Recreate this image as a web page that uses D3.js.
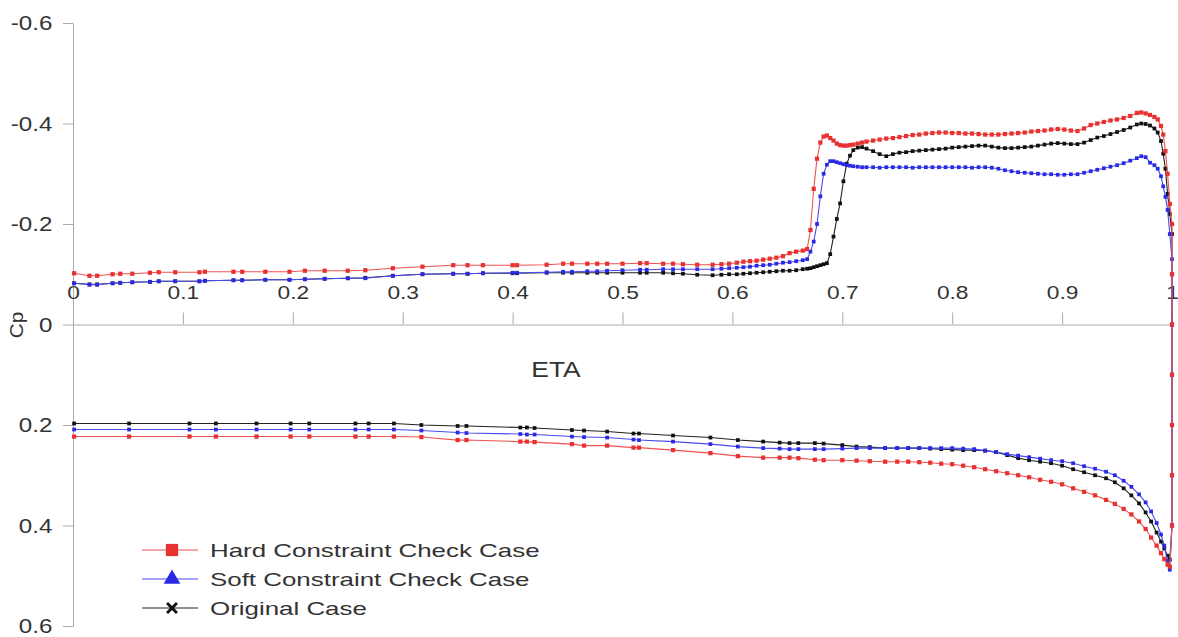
<!DOCTYPE html>
<html>
<head>
<meta charset="utf-8">
<script src="https://cdn.jsdelivr.net/npm/d3@7"></script>
<style>
  body { margin: 0; background: #fff; }
  svg text { font-family: "Liberation Sans", Arial, sans-serif; fill: #333; }
  .axis path, .axis line { stroke: #aaa; stroke-width: 1; }
</style>
</head>
<body>
<svg width="1178" height="637"></svg>
<script>
'use strict';

// upper surface stations (leading edge -> trailing edge)
var etaUpper = [0.001, 0.015, 0.022, 0.036, 0.043, 0.054, 0.07, 0.078, 0.093, 0.115,
  0.12, 0.146, 0.154, 0.175, 0.197, 0.211, 0.229, 0.25, 0.266, 0.291,
  0.318, 0.346, 0.359, 0.373, 0.40, 0.404, 0.431, 0.446, 0.454, 0.468,
  0.477, 0.486, 0.50, 0.516, 0.522, 0.537, 0.546, 0.555, 0.568, 0.582,
  0.59, 0.597, 0.604, 0.61, 0.616, 0.622, 0.628, 0.634, 0.64, 0.646,
  0.652, 0.658, 0.664, 0.668, 0.671, 0.674, 0.677, 0.68, 0.683, 0.686,
  0.689, 0.692, 0.695, 0.698, 0.701, 0.704, 0.707, 0.71, 0.714, 0.718,
  0.722, 0.728, 0.734, 0.74, 0.746, 0.752, 0.758, 0.764, 0.77, 0.776,
  0.782, 0.788, 0.794, 0.8, 0.806, 0.812, 0.818, 0.824, 0.83, 0.836,
  0.842, 0.848, 0.854, 0.86, 0.866, 0.872, 0.878, 0.884, 0.89, 0.896,
  0.902, 0.908, 0.914, 0.92, 0.926, 0.932, 0.938, 0.944, 0.95, 0.956,
  0.962, 0.968, 0.972, 0.976, 0.98, 0.984, 0.987, 0.99, 0.992, 0.994,
  0.996, 0.998, 1.0];

var hardUpper = [-0.102, -0.097, -0.097, -0.100, -0.101, -0.101, -0.103, -0.104, -0.104, -0.104,
  -0.105, -0.105, -0.105, -0.105, -0.105, -0.107, -0.107, -0.107, -0.108, -0.112,
  -0.115, -0.118, -0.118, -0.118, -0.118, -0.118, -0.119, -0.121, -0.121, -0.121,
  -0.121, -0.121, -0.121, -0.122, -0.122, -0.121, -0.121, -0.120, -0.119, -0.119,
  -0.120, -0.121, -0.123, -0.125, -0.126, -0.127, -0.129, -0.131, -0.133, -0.136,
  -0.142, -0.145, -0.147, -0.150, -0.188, -0.270, -0.330, -0.362, -0.374, -0.376,
  -0.371, -0.366, -0.360, -0.357, -0.356, -0.356, -0.357, -0.358, -0.360, -0.362,
  -0.364, -0.366, -0.368, -0.370, -0.371, -0.373, -0.375, -0.377, -0.378, -0.380,
  -0.381, -0.382, -0.382, -0.381, -0.381, -0.380, -0.380, -0.379, -0.378, -0.378,
  -0.378, -0.379, -0.380, -0.381, -0.382, -0.384, -0.385, -0.386, -0.388, -0.389,
  -0.388, -0.386, -0.385, -0.390, -0.397, -0.400, -0.403, -0.406, -0.408, -0.411,
  -0.415, -0.421, -0.422, -0.420, -0.417, -0.413, -0.408, -0.395, -0.378, -0.345,
  -0.300, -0.240, -0.200];

var softUpper = [-0.082, -0.079, -0.079, -0.082, -0.083, -0.084, -0.085, -0.086, -0.086, -0.086,
  -0.087, -0.088, -0.088, -0.089, -0.089, -0.090, -0.091, -0.092, -0.092, -0.097,
  -0.100, -0.101, -0.101, -0.102, -0.103, -0.103, -0.104, -0.105, -0.105, -0.106,
  -0.106, -0.107, -0.108, -0.109, -0.109, -0.110, -0.110, -0.110, -0.110, -0.110,
  -0.111, -0.112, -0.113, -0.114, -0.115, -0.117, -0.118, -0.119, -0.121, -0.123,
  -0.124, -0.126, -0.128, -0.130, -0.145, -0.165, -0.200, -0.255, -0.300, -0.318,
  -0.325, -0.325, -0.323, -0.321, -0.319, -0.317, -0.316, -0.315, -0.314, -0.313,
  -0.313, -0.313, -0.312, -0.313, -0.313, -0.313, -0.313, -0.312, -0.313, -0.313,
  -0.313, -0.313, -0.313, -0.313, -0.313, -0.313, -0.312, -0.313, -0.313, -0.312,
  -0.310, -0.307, -0.305, -0.303, -0.302, -0.301, -0.300, -0.299, -0.299, -0.298,
  -0.298, -0.299, -0.299, -0.302, -0.305, -0.308, -0.311, -0.314, -0.317, -0.321,
  -0.326, -0.331, -0.335, -0.333, -0.322, -0.317, -0.310, -0.295, -0.275, -0.254,
  -0.228, -0.180, -0.130];

var origUpper = [-0.082, -0.080, -0.080, -0.082, -0.083, -0.084, -0.085, -0.086, -0.086, -0.086,
  -0.087, -0.088, -0.088, -0.089, -0.089, -0.090, -0.091, -0.092, -0.093, -0.097,
  -0.100, -0.101, -0.101, -0.102, -0.102, -0.102, -0.103, -0.103, -0.103, -0.103,
  -0.103, -0.103, -0.103, -0.103, -0.103, -0.103, -0.102, -0.101, -0.099, -0.098,
  -0.099, -0.100, -0.100, -0.101, -0.102, -0.103, -0.104, -0.105, -0.106, -0.107,
  -0.107, -0.108, -0.110, -0.111, -0.112, -0.114, -0.116, -0.118, -0.120, -0.122,
  -0.140, -0.175, -0.210, -0.241, -0.285, -0.320, -0.336, -0.347, -0.352, -0.353,
  -0.350, -0.345, -0.339, -0.335, -0.339, -0.342, -0.343, -0.345, -0.346, -0.347,
  -0.348, -0.349, -0.350, -0.352, -0.353, -0.354, -0.355, -0.356, -0.356, -0.354,
  -0.352, -0.351, -0.351, -0.352, -0.353, -0.354, -0.356, -0.358, -0.360, -0.361,
  -0.360, -0.359, -0.359, -0.362, -0.367, -0.372, -0.375, -0.379, -0.383, -0.387,
  -0.392, -0.398, -0.400, -0.399, -0.396, -0.390, -0.382, -0.365, -0.340, -0.310,
  -0.260, -0.220, -0.180];

// lower surface stations (leading edge -> trailing edge, then up the blunt trailing edge)
var etaLower = [0.001, 0.051, 0.106, 0.13, 0.167, 0.198, 0.215, 0.257, 0.269, 0.292,
  0.317, 0.35, 0.358, 0.407, 0.413, 0.42, 0.454, 0.465, 0.486, 0.51,
  0.515, 0.546, 0.58, 0.605, 0.628, 0.643, 0.652, 0.66, 0.675, 0.683,
  0.70, 0.713, 0.725, 0.739, 0.75, 0.76, 0.77, 0.78, 0.79, 0.80,
  0.81, 0.82, 0.83, 0.84, 0.85, 0.86, 0.87, 0.88, 0.89, 0.90,
  0.91, 0.92, 0.93, 0.94, 0.948, 0.956, 0.963, 0.97, 0.976, 0.981,
  0.986, 0.99, 0.993, 0.996, 0.998, 1, 1, 1, 1, 1,
  1];

var hardLower = [0.223, 0.223, 0.223, 0.223, 0.223, 0.223, 0.223, 0.223, 0.223, 0.223,
  0.224, 0.230, 0.230, 0.233, 0.233, 0.234, 0.238, 0.241, 0.241, 0.245,
  0.245, 0.250, 0.256, 0.262, 0.265, 0.265, 0.265, 0.266, 0.269, 0.270,
  0.270, 0.271, 0.272, 0.273, 0.273, 0.273, 0.274, 0.275, 0.277, 0.278,
  0.281, 0.284, 0.288, 0.292, 0.296, 0.300, 0.304, 0.309, 0.313, 0.318,
  0.326, 0.333, 0.340, 0.349, 0.357, 0.367, 0.378, 0.392, 0.407, 0.424,
  0.440, 0.455, 0.467, 0.478, 0.482, 0.40, 0.30, 0.20, 0.10, 0.00,
  -0.10];

var softLower = [0.209, 0.209, 0.209, 0.209, 0.209, 0.209, 0.209, 0.209, 0.209, 0.209,
  0.211, 0.215, 0.216, 0.218, 0.219, 0.219, 0.223, 0.224, 0.225, 0.229,
  0.230, 0.233, 0.238, 0.243, 0.246, 0.247, 0.248, 0.248, 0.248, 0.248,
  0.247, 0.246, 0.246, 0.246, 0.246, 0.246, 0.246, 0.246, 0.246, 0.246,
  0.247, 0.248, 0.251, 0.254, 0.258, 0.261, 0.264, 0.267, 0.270, 0.272,
  0.276, 0.282, 0.287, 0.293, 0.300, 0.311, 0.323, 0.338, 0.354, 0.372,
  0.395, 0.418, 0.440, 0.470, 0.488, 0.40, 0.30, 0.20, 0.10, 0.00,
  -0.10];

var origLower = [0.197, 0.197, 0.197, 0.197, 0.197, 0.197, 0.197, 0.197, 0.197, 0.197,
  0.200, 0.202, 0.202, 0.205, 0.205, 0.206, 0.210, 0.211, 0.213, 0.217,
  0.217, 0.221, 0.225, 0.230, 0.233, 0.235, 0.236, 0.236, 0.236, 0.237,
  0.240, 0.243, 0.244, 0.246, 0.246, 0.246, 0.246, 0.247, 0.248, 0.249,
  0.250, 0.250, 0.251, 0.254, 0.260, 0.266, 0.270, 0.273, 0.276, 0.281,
  0.288, 0.294, 0.300, 0.306, 0.314, 0.326, 0.340, 0.356, 0.374, 0.392,
  0.414, 0.432, 0.446, 0.460, 0.468, 0.40, 0.30, 0.20, 0.10, 0.00,
  -0.10];

var seriesNames = ['Hard Constraint Check Case', 'Soft Constraint Check Case', 'Original Case'];
var xTicks = [0, 0.1, 0.2, 0.3, 0.4, 0.5, 0.6, 0.7, 0.8, 0.9, 1];
var yTicks = [-0.6, -0.4, -0.2, 0, 0.2, 0.4, 0.6];

var svg = d3.select('svg');
var xScale = d3.scaleLinear().domain([0, 1]).range([73, 1172]);
var yScale = d3.scaleLinear().domain([-0.6, 0.6]).range([23, 626]);

function fmt(d) {
  return String(+d.toFixed(1));
}

// one closed loop per case: upper LE -> TE, then back along the lower surface
function loop(up, low) {
  var pts = etaUpper.map(function (e, i) { return [e, up[i]]; });
  for (var i = etaLower.length - 1; i >= 0; i--) {
    pts.push([etaLower[i], low[i]]);
  }
  return pts;
}

var series = [
  { name: seriesNames[2], line: '#222', fill: '#111', size: 14, legend: 'x', data: loop(origUpper, origLower) },
  { name: seriesNames[1], line: '#4a4af0', fill: '#2a2ae6', size: 14, legend: d3.symbolTriangle, data: loop(softUpper, softLower) },
  { name: seriesNames[0], line: '#f05252', fill: '#e83232', size: 18, legend: d3.symbolSquare, data: loop(hardUpper, hardLower) }
];

// axes
var xAxis = d3.axisTop(xScale).tickValues(xTicks).tickSize(12).tickSizeOuter(0).tickPadding(14).tickFormat(fmt);
var yAxis = d3.axisLeft(yScale).tickValues(yTicks).tickSize(10).tickSizeOuter(0).tickPadding(8).tickFormat(fmt);

var ya = svg.append('g').attr('class', 'axis y').attr('transform', 'translate(' + xScale(0) + ',0)').call(yAxis);
ya.selectAll('text').attr('font-size', 21).attr('transform', 'scale(1.15,1)');

var xa = svg.append('g').attr('class', 'axis x').attr('transform', 'translate(0,' + yScale(0) + ')').call(xAxis);
xa.selectAll('text').attr('font-size', 18.5).attr('transform', 'scale(1.23,1)');

svg.append('text').attr('transform', 'translate(23,325) rotate(-90) scale(1.15,1)')
  .attr('text-anchor', 'middle').attr('font-size', 18).text('Cp');
svg.append('text').attr('transform', 'translate(556,377) scale(1.2,1)').attr('text-anchor', 'middle')
  .attr('font-size', 22).text('ETA');

// curves
var line = d3.line()
  .x(function (d) { return xScale(d[0]); })
  .y(function (d) { return yScale(d[1]); });

series.forEach(function (s) {
  var g = svg.append('g').attr('class', 'series');
  g.append('path').attr('d', line(s.data)).attr('fill', 'none')
    .attr('stroke', s.line).attr('stroke-width', 1.1);
  g.selectAll('path.pt').data(s.data).enter().append('path').attr('class', 'pt')
    .attr('transform', function (d) { return 'translate(' + xScale(d[0]) + ',' + yScale(d[1]) + ')'; })
    .attr('d', d3.symbol().type(d3.symbolSquare).size(s.size))
    .attr('fill', s.fill);
});

// legend
var legendRows = [series[2], series[1], series[0]];
var legend = svg.append('g').attr('class', 'legend');
legendRows.forEach(function (s, i) {
  var y = 550 + i * 29;
  var row = legend.append('g').attr('transform', 'translate(0,' + y + ')');
  row.append('line').attr('x1', 142).attr('x2', 198).attr('y1', 0).attr('y2', 0)
    .attr('stroke', s.line).attr('stroke-width', 1.1);
  var sym = row.append('path').attr('fill', s.fill);
  if (s.legend === 'x') {
    sym.attr('transform', 'translate(172,0) rotate(45)')
      .attr('d', 'M-7,-1.4H7V1.4H-7Z M-1.4,-7H1.4V7H-1.4Z');
  } else {
    sym.attr('transform', 'translate(172,0)')
      .attr('d', d3.symbol().type(s.legend).size(s.legend === d3.symbolSquare ? 150 : 120)());
  }
  row.append('text').attr('transform', 'translate(210,7) scale(1.4,1)')
    .attr('font-size', 18.5).attr('fill', '#222').text(s.name);
});
</script>
</body>
</html>
